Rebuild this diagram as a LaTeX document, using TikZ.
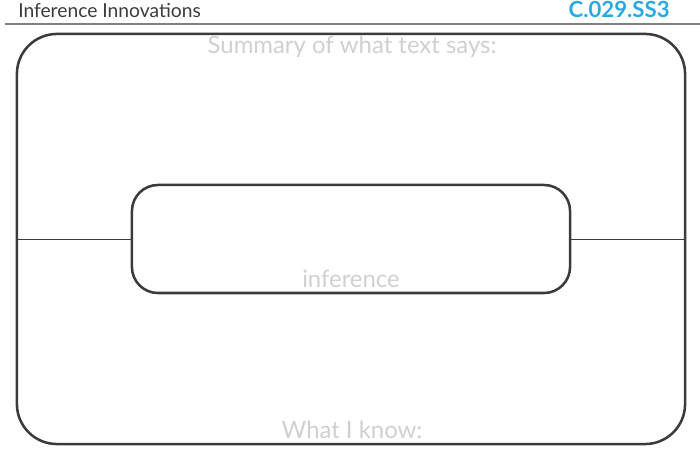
\documentclass[tikz,border=0pt]{standalone}
\usepackage{fontspec}
\setmainfont{Lato}
\usetikzlibrary{positioning}
\definecolor{boxline}{HTML}{3A3B3E}
\definecolor{hint}{HTML}{CFD0D2}
\definecolor{codeblue}{HTML}{2AAAE2}
\tikzset{
  frame/.style={draw=boxline, line width=1.8pt, rounded corners=1cm},
  hinttext/.style={text=hint, font=\fontsize{17}{19}\selectfont, inner sep=0pt}
}
\begin{document}
\begin{tikzpicture}[x=0.025cm, y=-0.025cm]
				\useasboundingbox (0,0) rectangle (700,458);
				
				\node[anchor=base west, inner sep=0pt, text=boxline, font=\fontsize{13.7}{15}\selectfont] (title) at (18,18) {Inference Innovations};
				\node[anchor=base east, inner sep=0pt, text=codeblue, font=\fontsize{15.8}{17}\bfseries\selectfont] (code) at (670,18) {C.029.SS3};
				\draw[gray, line width=0.9pt] (5,24) -- (700,24);
				
				\node[frame, minimum width=16.7cm, minimum height=10.25cm] (outer) at (351,239) {};
				\node[frame, rounded corners=0.65cm, minimum width=10.95cm, minimum height=2.7cm] (inner) at (351,239) {};
				
				\draw[boxline, line width=0.6pt] (outer.west) -- (inner.west);
				\draw[boxline, line width=0.6pt] (inner.east) -- (outer.east);
				
				\node[hinttext, anchor=base] (summary) at (352,54) {Summary of what text says:};
				\node[hinttext, anchor=base] (infer) at (351,288) {inference};
				\node[hinttext, anchor=base] (know) at (352,439) {What I know:};
			\end{tikzpicture}
\end{document}
